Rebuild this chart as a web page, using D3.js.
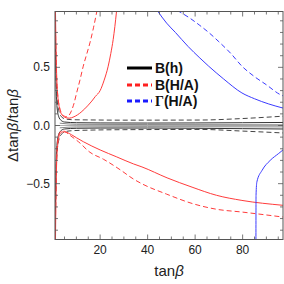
<!DOCTYPE html>
<html>
<head>
<meta charset="utf-8">
<script src="https://cdn.jsdelivr.net/npm/d3@7"></script>
<style>
  body { margin: 0; background: #fff; }
  text { font-family: "Liberation Sans", Arial, sans-serif; }
</style>
</head>
<body>
<div id="chart"></div>
<script>
// values: [tanBeta, delta tanBeta / tanBeta]
var bhSolidUp = [[1.05, 0.98], [1.3, 0.5], [1.7, 0.2], [2.5, 0.08], [3.5, 0.045], [5, 0.03], [10, 0.024], [20, 0.022], [40, 0.021], [60, 0.022], [80, 0.024], [97, 0.026]];
var bhSolidLow = [[1.05, -0.98], [1.3, -0.5], [1.7, -0.2], [2.5, -0.08], [3.5, -0.045], [5, -0.03], [10, -0.024], [20, -0.022], [40, -0.022], [60, -0.024], [80, -0.027], [97, -0.03]];
var bhInnerUp = [[3, 0.02], [10, 0.01], [40, 0.008], [97, 0.006]];
var bhInnerLow = [[3, -0.02], [10, -0.012], [40, -0.01], [97, -0.012]];
var bhDashUp = [[1.05, 0.98], [1.4, 0.5], [2, 0.2], [3, 0.1], [4, 0.07], [5, 0.058], [8, 0.05], [15, 0.048], [30, 0.046], [62, 0.047], [80, 0.06], [97, 0.08]];
var bhDashLow = [[1.05, -0.98], [1.4, -0.5], [2, -0.2], [3, -0.1], [4, -0.07], [5, -0.055], [8, -0.045], [15, -0.04], [30, -0.036], [62, -0.034], [80, -0.048], [97, -0.064]];

var bhaSolidUp = [[1.2, 0.98], [1.5, 0.6], [2, 0.3], [3, 0.14], [4, 0.09], [5, 0.072], [7, 0.063], [9, 0.075], [12, 0.115], [15, 0.175], [16.5, 0.21], [18, 0.25], [20, 0.3], [21.7, 0.39], [23.4, 0.51], [24.5, 0.62], [25.5, 0.74], [26.2, 0.85], [26.9, 0.98]];
var bhaDashUp = [[1.1, 0.98], [1.5, 0.5], [2, 0.3], [3, 0.15], [4, 0.1], [5, 0.08], [6, 0.075], [7, 0.09], [8, 0.13], [9, 0.19], [10.1, 0.28], [11.5, 0.39], [12.9, 0.51], [14.3, 0.61], [15.7, 0.71], [17.2, 0.84], [18.7, 0.99]];
var bhaSolidLow = [[1.2, -0.98], [1.5, -0.5], [2, -0.2], [3, -0.075], [4, -0.056], [5, -0.055], [8, -0.08], [10, -0.105], [13, -0.14], [20, -0.21], [27, -0.27], [34, -0.33], [37.6, -0.356], [48.2, -0.45], [58.7, -0.53], [69, -0.6], [79.7, -0.644], [97, -0.686]];
var bhaDashLow = [[1.1, -0.98], [1.5, -0.4], [2, -0.15], [3, -0.06], [4, -0.045], [5, -0.05], [7, -0.08], [9, -0.11], [10.9, -0.14], [15.7, -0.23], [21.4, -0.29], [28.4, -0.38], [34, -0.46], [37.5, -0.5], [48, -0.59], [58.7, -0.67], [69, -0.72], [79.7, -0.744], [97, -0.787]];

var gamSolidUp = [[44, 0.99], [48, 0.88], [51.7, 0.8], [57, 0.68], [62, 0.58], [65.7, 0.51], [72, 0.4], [79.7, 0.28], [85, 0.23], [91, 0.185], [97, 0.15]];
var gamDashUp = [[52.4, 0.99], [58, 0.92], [62, 0.86], [65.7, 0.8], [70, 0.72], [75, 0.62], [79.7, 0.51], [85, 0.42], [90, 0.35], [95.9, 0.265], [97, 0.255]];
var gamSolidLow = [[85.6, -0.99], [85.65, -0.6], [86, -0.485], [88.2, -0.385], [91.6, -0.3], [95.2, -0.24], [97, -0.21]];

var xTicks = [20, 40, 60, 80];
var yTicks = [-0.5, 0, 0.5];
var legendLabels = ["B(h)", "B(H/A)", "Γ(H/A)"];

var W = 284, H = 284;
var x0 = 55, x1 = 283, y0 = 11.5, y1 = 239.5;

var x = d3.scaleLinear().domain([1, 97]).range([x0, x1]);
var y = d3.scaleLinear().domain([-0.98, 0.98]).range([y1, y0]);

var svg = d3.select("#chart").append("svg").attr("width", W).attr("height", H);

svg.append("clipPath").attr("id", "clip").append("rect")
  .attr("x", x0).attr("y", y0).attr("width", x1 - x0).attr("height", y1 - y0);

var plot = svg.append("g").attr("clip-path", "url(#clip)");

// zero axis
plot.append("line").attr("x1", x0).attr("x2", x1).attr("y1", y(0)).attr("y2", y(0))
  .attr("stroke", "#999").attr("stroke-width", 0.8);

var line = d3.line().x(function(d) { return x(d[0]); }).y(function(d) { return y(d[1]); })
  .curve(d3.curveMonotoneX);

var curves = [
  { d: bhInnerUp, c: "#888", dash: null },
  { d: bhInnerLow, c: "#888", dash: null },
  { d: bhSolidUp, c: "#333", dash: null },
  { d: bhSolidLow, c: "#333", dash: null },
  { d: bhDashUp, c: "#444", dash: "5,3" },
  { d: bhDashLow, c: "#444", dash: "5,3" },
  { d: bhaSolidUp, c: "#ff3b3b", dash: null },
  { d: bhaSolidLow, c: "#ff3b3b", dash: null },
  { d: bhaDashUp, c: "#ff3b3b", dash: "5,3" },
  { d: bhaDashLow, c: "#ff3b3b", dash: "5,3" },
  { d: gamSolidUp, c: "#3b3bff", dash: null },
  { d: gamDashUp, c: "#3b3bff", dash: "5,3" },
  { d: gamSolidLow, c: "#3b3bff", dash: null }
];

plot.selectAll("path.curve").data(curves).enter().append("path")
  .attr("class", "curve")
  .attr("d", function(d) { return line(d.d); })
  .attr("fill", "none")
  .attr("stroke", function(d) { return d.c; })
  .attr("stroke-width", 1)
  .attr("stroke-dasharray", function(d) { return d.dash; });

// frame
svg.append("rect").attr("x", x0).attr("y", y0).attr("width", x1 - x0).attr("height", y1 - y0)
  .attr("fill", "none").attr("stroke", "#555").attr("stroke-width", 1);

// ticks, inward on all four sides
var axes = svg.append("g").attr("stroke", "#555").attr("stroke-width", 0.8);
d3.range(5, 97, 5).forEach(function(t) {
  var len = xTicks.indexOf(t) >= 0 ? 5 : 3;
  axes.append("line").attr("x1", x(t)).attr("x2", x(t)).attr("y1", y1).attr("y2", y1 - len);
  axes.append("line").attr("x1", x(t)).attr("x2", x(t)).attr("y1", y0).attr("y2", y0 + len);
});
d3.range(-9, 10).forEach(function(i) {
  var v = i / 10;
  var len = (i % 5 === 0) ? 5 : 3;
  axes.append("line").attr("x1", x0).attr("x2", x0 + len).attr("y1", y(v)).attr("y2", y(v));
  axes.append("line").attr("x1", x1).attr("x2", x1 - len).attr("y1", y(v)).attr("y2", y(v));
});

svg.selectAll("text.xt").data(xTicks).enter().append("text")
  .attr("class", "xt")
  .attr("x", function(d) { return x(d); }).attr("y", 254)
  .attr("text-anchor", "middle").attr("font-size", 12).attr("fill", "#222")
  .text(function(d) { return d; });

svg.selectAll("text.yt").data(yTicks).enter().append("text")
  .attr("class", "yt")
  .attr("x", 50).attr("y", function(d) { return y(d) + 4; })
  .attr("text-anchor", "end").attr("font-size", 12).attr("fill", "#222")
  .text(function(d) { return d === 0 ? "0.0" : d3.format(".1f")(d).replace("-", "\u2212"); });

// axis titles
var xt = svg.append("text").attr("x", (x0 + x1) / 2).attr("y", 276)
  .attr("text-anchor", "middle").attr("font-size", 15).attr("fill", "#222");
xt.append("tspan").text("tan");
xt.append("tspan").attr("font-style", "italic").text("β");

var yt = svg.append("text").attr("transform", "translate(18," + y(0) + ") rotate(-90)")
  .attr("text-anchor", "middle").attr("font-size", 15).attr("fill", "#222");
yt.append("tspan").text("Δtan");
yt.append("tspan").attr("font-style", "italic").text("β");
yt.append("tspan").text("/tan");
yt.append("tspan").attr("font-style", "italic").text("β");

// legend
var legColors = ["#000", "#ff2020", "#1a1aff"];
var legDash = [null, "5,3", "5,3"];
var legY = [68, 85, 101];
var leg = svg.append("g");
legendLabels.forEach(function(lab, i) {
  leg.append("line").attr("x1", 127).attr("x2", 152).attr("y1", legY[i]).attr("y2", legY[i])
    .attr("stroke", legColors[i]).attr("stroke-width", 3).attr("stroke-dasharray", legDash[i]);
  var t = leg.append("text").attr("x", 155).attr("y", legY[i] + 5)
    .attr("font-size", 14).attr("font-weight", "bold").attr("fill", "#111");
  if (lab.charAt(0) === "Γ") {
    t.append("tspan").attr("font-family", "Liberation Serif").text("Γ");
    t.append("tspan").text(lab.slice(1));
  } else {
    t.text(lab);
  }
});
</script>
</body>
</html>
